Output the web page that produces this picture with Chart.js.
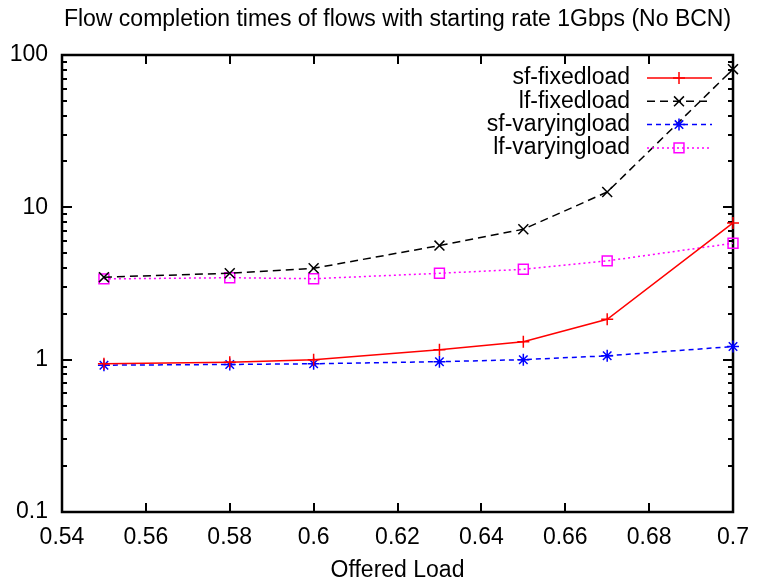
<!DOCTYPE html>
<html><head><meta charset="utf-8">
<script src="https://cdn.jsdelivr.net/npm/chart.js@4/dist/chart.umd.min.js"></script>
<style>html,body{margin:0;padding:0;background:#fff}#wrap{width:761px;height:586px}</style>
</head><body><div id="wrap"><canvas id="c" width="761" height="586"></canvas></div>
<script>
const offeredLoad = [0.55, 0.58, 0.6, 0.63, 0.65, 0.67, 0.7];
const sfFixedload = [0.94, 0.96, 1.0, 1.16, 1.31, 1.84, 7.9];
const lfFixedload = [3.48, 3.69, 3.98, 5.61, 7.18, 12.6, 80.7];
const sfVaryingload = [0.92, 0.93, 0.94, 0.97, 1.0, 1.06, 1.22];
const lfVaryingload = [3.39, 3.45, 3.40, 3.69, 3.92, 4.45, 5.81];
const seriesNames = ['sf-fixedload', 'lf-fixedload', 'sf-varyingload', 'lf-varyingload'];
const xTicks = [0.54, 0.56, 0.58, 0.6, 0.62, 0.64, 0.66, 0.68, 0.7];
const yTicks = [0.1, 1, 10, 100];
const titleText = 'Flow completion times of flows with starting rate 1Gbps (No BCN)';
const xTitle = 'Offered Load';

const FONT = '"Liberation Sans", Arial, Helvetica, sans-serif';
const FS = 23;

function pts(arr){ return offeredLoad.map((x,i)=>({x:x, y:arr[i]})); }

const styles = [
  {color:'#ff0000', dash:[], ps:'cross', r:6},
  {color:'#000000', dash:[8,5], ps:'crossRot', r:7},
  {color:'#0000ff', dash:[5,4], ps:'star', r:6},
  {color:'#ff00ff', dash:[2,3], ps:'rect', r:7}
];
const values = [sfFixedload, lfFixedload, sfVaryingload, lfVaryingload];

const datasets = values.map((v,i)=>({
  label: seriesNames[i],
  data: pts(v),
  borderColor: styles[i].color,
  backgroundColor: 'rgba(0,0,0,0)',
  borderWidth: 1.5,
  borderDash: styles[i].dash,
  pointStyle: styles[i].ps,
  pointRadius: styles[i].r,
  pointBorderWidth: 1.5,
  pointBorderColor: styles[i].color,
  pointBackgroundColor: 'rgba(0,0,0,0)',
  tension: 0,
  clip: false
}));

const framePlugin = {
  id: 'frame',
  beforeDatasetsDraw(chart){
    const {ctx, chartArea:a, scales:{x, y}} = chart;
    ctx.save();
    ctx.strokeStyle = '#000';
    ctx.lineWidth = 2;
    ctx.beginPath();
    xTicks.forEach(v=>{
      const px = Math.round(x.getPixelForValue(v));
      ctx.moveTo(px, a.bottom); ctx.lineTo(px, a.bottom-9);
      ctx.moveTo(px, a.top); ctx.lineTo(px, a.top+9);
    });
    yTicks.forEach((d,di)=>{
      for (let m=1; m<=9; m++){
        if (di===yTicks.length-1 && m>1) break;
        const py = Math.round(y.getPixelForValue(d*m));
        const len = m===1 ? 10 : 5;
        ctx.moveTo(a.left, py); ctx.lineTo(a.left+len, py);
        ctx.moveTo(a.right, py); ctx.lineTo(a.right-len, py);
      }
    });
    ctx.stroke();
    ctx.lineWidth = 2.5;
    ctx.strokeRect(a.left, a.top, a.right-a.left, a.bottom-a.top);
    ctx.restore();
  },
  afterDatasetsDraw(chart){
    const {ctx, chartArea:a} = chart;
    ctx.save();
    ctx.fillStyle = '#000';
    ctx.font = FS + 'px ' + FONT;
    ctx.textBaseline = 'middle';
    ctx.textAlign = 'center';
    ctx.fillText(titleText, (a.left+a.right)/2, 20);
    ctx.textAlign = 'right';
    chart.data.datasets.forEach((ds,i)=>{
      const yy = 78 + i*23.3;
      ctx.fillStyle = '#000';
      ctx.fillText(ds.label, 630, yy);
      ctx.strokeStyle = ds.borderColor;
      ctx.lineWidth = 1.5;
      ctx.setLineDash(ds.borderDash);
      ctx.beginPath(); ctx.moveTo(647, yy); ctx.lineTo(712, yy); ctx.stroke();
      ctx.setLineDash([]);
      ctx.fillStyle = 'rgba(0,0,0,0)';
      Chart.helpers.drawPoint(ctx, {pointStyle: ds.pointStyle, radius: ds.pointRadius, rotation: 0, borderWidth: 1.5}, 679, yy);
    });
    ctx.restore();
  }
};

new Chart(document.getElementById('c'), {
  type: 'line',
  data: { datasets },
  options: {
    responsive: false,
    animation: false,
    devicePixelRatio: 1,
    layout: { padding: { top: 55, right: 21, left: 0, bottom: 0 } },
    plugins: { legend: { display: false }, title: { display: false }, tooltip: { enabled: false } },
    scales: {
      x: {
        type: 'linear', min: 0.54, max: 0.7,
        grid: { display: false, drawTicks: false },
        border: { display: false },
        afterBuildTicks: s => { s.ticks = xTicks.map(v=>({value:v})); },
        afterFit: s => { s.height = 74; },
        ticks: { color:'#000', font:{family:FONT, size:FS}, padding: 12, maxRotation:0, autoSkip:false,
          callback: v => String(Math.round(v*100)/100) },
        title: { display: true, text: xTitle, color:'#000', font:{family:FONT, size:FS}, padding:{top:0,bottom:2} }
      },
      y: {
        type: 'logarithmic', min: 0.1, max: 100,
        grid: { display: false, drawTicks: false },
        border: { display: false },
        afterBuildTicks: s => { s.ticks = yTicks.map(v=>({value:v})); },
        afterFit: s => { s.width = 62; },
        ticks: { color:'#000', font:{family:FONT, size:FS}, padding: 14, autoSkip:false,
          callback: v => String(v) }
      }
    }
  },
  plugins: [framePlugin]
});
</script></body></html>
